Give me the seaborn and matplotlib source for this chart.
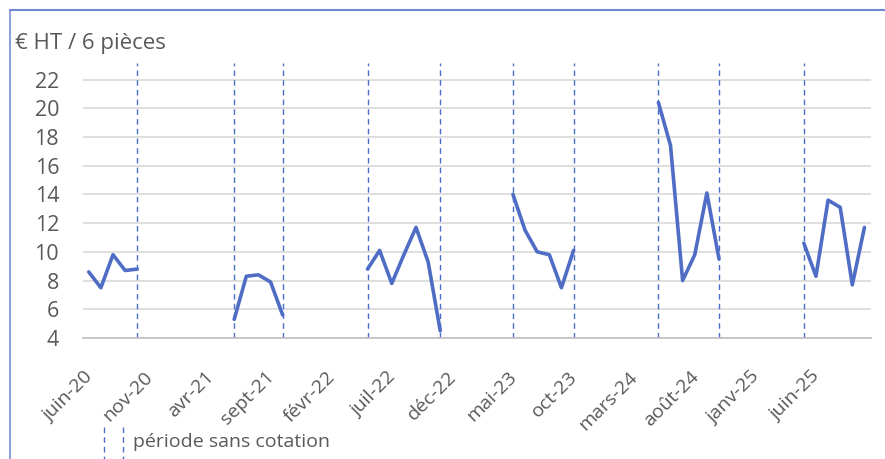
import numpy as np
import pandas as pd
import matplotlib.pyplot as plt
import seaborn as sns
from matplotlib.lines import Line2D
from matplotlib.transforms import ScaledTranslation

# mois de cotation : juin-20 -> oct-25
mois = ["janv", "févr", "mars", "avr", "mai", "juin", "juil", "août", "sept", "oct", "nov", "déc"]
months = [f"{mois[(5 + k) % 12]}-{20 + (5 + k) // 12}" for k in range(65)]

prices = [
    8.6, 7.5, 9.8, 8.7, 8.8,                      # juin-20 .. oct-20
    None, None, None, None, None, None, None,
    5.3, 8.3, 8.4, 7.9, 5.6,                      # juin-21 .. oct-21
    None, None, None, None, None, None,
    8.8, 10.1, 7.8, 9.8, 11.7, 9.3, 4.5,          # mai-22 .. nov-22
    None, None, None, None, None,
    14.0, 11.5, 10.0, 9.8, 7.5, 10.1,             # mai-23 .. oct-23
    None, None, None, None, None, None,
    20.4, 17.4, 8.0, 9.8, 14.1, 9.5,              # mai-24 .. oct-24
    None, None, None, None, None, None,
    10.6, 8.3, 13.6, 13.1, 7.7, 11.7,             # mai-25 .. oct-25
]

tick_labels = ["juin-20", "nov-20", "avr-21", "sept-21", "févr-22", "juil-22", "déc-22",
               "mai-23", "oct-23", "mars-24", "août-24", "janv-25", "juin-25"]

# limites des périodes sans cotation
no_quote = ["oct-20", "juin-21", "oct-21", "mai-22", "nov-22",
            "mai-23", "oct-23", "mai-24", "oct-24", "mai-25"]

BLUE = "#4F6DC5"
DASH = "#4A6CCB"
GREY = "#595959"

sns.set_style("white")
plt.rcParams["font.family"] = ["Open Sans", "DejaVu Sans"]

df = pd.DataFrame({"month": months, "price": prices})
df["pos"] = [months.index(m) + 0.5 for m in df["month"]]
df["segment"] = df["price"].isna().cumsum()
df = df.dropna()

fig = plt.figure(figsize=(8.85, 4.59), dpi=100)
ax = fig.add_axes([82.7 / 885, 1 - 338 / 459, (870.5 - 82.7) / 885, 275 / 459])

sns.lineplot(data=df, x="pos", y="price", units="segment", estimator=None,
             color=BLUE, lw=2.6, ax=ax, legend=False)

ax.vlines([months.index(m) + 0.5 for m in no_quote], 4, 23.15,
          colors=DASH, linestyles=(0, (4, 3)), lw=1.0)

ax.set_xlim(0, 65)
ax.set_ylim(4, 23.15)
ax.set_yticks(range(4, 23, 2))
ax.yaxis.grid(True, color="#D9D9D9", lw=1.2)
ax.set_axisbelow(True)

ax.set_xticks([months.index(t) for t in tick_labels] + [65])
ax.set_xticklabels(tick_labels + [""], rotation=45, ha="right",
                   rotation_mode="anchor", va="center")
ax.tick_params(axis="x", length=5, color="#BFBFBF", width=1.2, pad=21,
               labelsize=14, labelcolor=GREY)
ax.tick_params(axis="y", length=0, pad=17, labelsize=15.5, labelcolor=GREY)
shift = ScaledTranslation(7 / 100, 0, fig.dpi_scale_trans)
for lab in ax.get_xticklabels():
    lab.set_transform(lab.get_transform() + shift)
ax.set_xlabel("")
ax.set_ylabel("")

for s in ["left", "top", "right"]:
    ax.spines[s].set_visible(False)
ax.spines["bottom"].set_color("#BFBFBF")
ax.spines["bottom"].set_linewidth(1.2)

fig.text(15 / 885, 1 - 43 / 459, "€ HT / 6 pièces", fontsize=16, color=GREY,
         va="center", ha="left")

# légende
for xp in [104, 123]:
    fig.add_artist(Line2D([xp / 885, xp / 885], [1 - 427 / 459, 0], color=DASH,
                          lw=1.0, linestyle=(0, (4, 3))))
fig.text(133 / 885, 1 - 442 / 459, "période sans cotation", fontsize=14,
         color=GREY, va="center", ha="left")

# cadre
fig.add_artist(Line2D([10 / 885, 10 / 885], [0, 1 - 10 / 459], color="#8FA0DA", lw=1.5))
fig.add_artist(Line2D([10 / 885, 1], [1 - 10 / 459, 1 - 10 / 459], color="#6F88D2", lw=1.5))

fig.savefig("out.png", dpi=100)
